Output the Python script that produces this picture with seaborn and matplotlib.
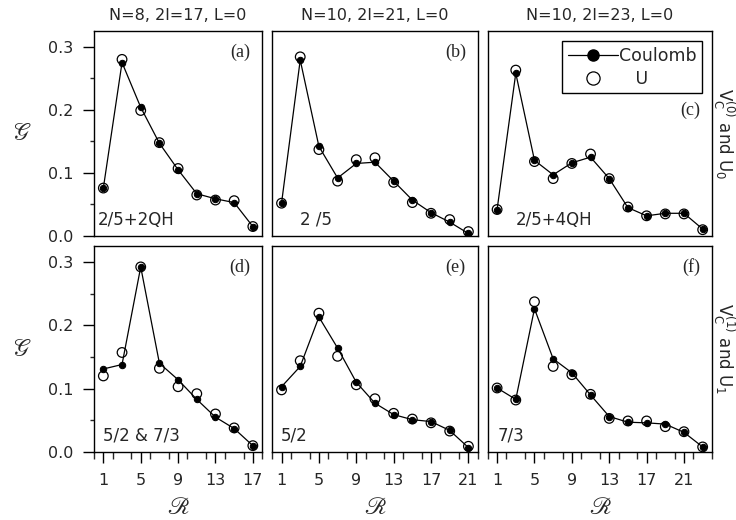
import matplotlib
matplotlib.use("Agg")
import matplotlib.pyplot as plt
import seaborn as sns
from matplotlib.lines import Line2D
from matplotlib.ticker import MultipleLocator

# ---------------- data ----------------
R_a = [1, 3, 5, 7, 9, 11, 13, 15, 17]
R_b = [1, 3, 5, 7, 9, 11, 13, 15, 17, 19, 21]
R_c = [1, 3, 5, 7, 9, 11, 13, 15, 17, 19, 21, 23]

coul_a = [0.076, 0.275, 0.204, 0.147, 0.105, 0.067, 0.059, 0.053, 0.015]
u_a    = [0.076, 0.280, 0.199, 0.148, 0.107, 0.065, 0.057, 0.056, 0.015]
coul_b = [0.052, 0.279, 0.142, 0.092, 0.115, 0.117, 0.087, 0.057, 0.037, 0.022, 0.004]
u_b    = [0.052, 0.284, 0.137, 0.087, 0.121, 0.124, 0.085, 0.053, 0.036, 0.026, 0.007]
coul_c = [0.042, 0.258, 0.120, 0.097, 0.116, 0.125, 0.091, 0.045, 0.032, 0.036, 0.036, 0.011]
u_c    = [0.042, 0.263, 0.118, 0.091, 0.115, 0.130, 0.091, 0.046, 0.032, 0.035, 0.035, 0.010]
coul_d = [0.131, 0.138, 0.292, 0.140, 0.114, 0.083, 0.055, 0.037, 0.010]
u_d    = [0.120, 0.157, 0.292, 0.132, 0.103, 0.092, 0.060, 0.038, 0.010]
coul_e = [0.103, 0.135, 0.213, 0.164, 0.110, 0.077, 0.059, 0.051, 0.048, 0.034, 0.007]
u_e    = [0.098, 0.144, 0.219, 0.151, 0.106, 0.084, 0.061, 0.052, 0.046, 0.033, 0.009]
coul_f = [0.101, 0.083, 0.226, 0.147, 0.125, 0.090, 0.056, 0.047, 0.046, 0.044, 0.031, 0.008]
u_f    = [0.101, 0.082, 0.237, 0.135, 0.122, 0.091, 0.053, 0.049, 0.049, 0.040, 0.032, 0.008]

col_titles = ["N=8, 2l=17, L=0", "N=10, 2l=21, L=0", "N=10, 2l=23, L=0"]
panel_letters = ["(a)", "(b)", "(c)", "(d)", "(e)", "(f)"]
inner_labels = ["2/5+2QH", "2 /5", "2/5+4QH", "5/2 & 7/3", "5/2", "7/3"]
row_labels = [r"V$_{\rm C}^{(0)}$ and U$_0$", r"V$_{\rm C}^{(1)}$ and U$_1$"]
x_major_ticks = [1, 5, 9, 13, 17, 21]
y_major_ticks = [0.0, 0.1, 0.2, 0.3]
legend_labels = ["Coulomb", "   U"]

R_sets = [R_a, R_b, R_c, R_a, R_b, R_c]
coul_sets = [coul_a, coul_b, coul_c, coul_d, coul_e, coul_f]
u_sets = [u_a, u_b, u_c, u_d, u_e, u_f]

# ---------------- style ----------------
sns.set_style("ticks")
plt.rcParams["font.family"] = ["DejaVu Sans"]
plt.rcParams["axes.linewidth"] = 1.0
plt.rcParams["axes.edgecolor"] = "black"

W, H = 736, 520
fig = plt.figure(figsize=(W / 100, H / 100), dpi=100)

# layout in pixels
left_px, right_px, gap_px = 94, 712, 10
spans = [max(r) + 1 for r in (R_a, R_b, R_c)]
avail = right_px - left_px - 2 * gap_px
col_w = [avail * s / sum(spans) for s in spans]
col_l = [left_px, left_px + col_w[0] + gap_px, left_px + col_w[0] + col_w[1] + 2 * gap_px]
rows = [(31, 236), (246, 452)]

inner_offsets = [4, 28, 28, 9, 9, 10]
letter_y_px = [21, 21, 79, 21, 21, 21]

axes = []
for i in range(6):
    r, c = divmod(i, 3)
    top, bot = rows[r]
    ax = fig.add_axes([col_l[c] / W, 1 - bot / H, col_w[c] / W, (bot - top) / H])
    axes.append(ax)
    R = R_sets[i]
    sns.scatterplot(x=R, y=u_sets[i], ax=ax, s=48, facecolor="none",
                    edgecolor="black", linewidth=0.9, zorder=2)
    sns.lineplot(x=R, y=coul_sets[i], ax=ax, color="black", linewidth=0.9,
                 marker="o", markersize=4.6, markerfacecolor="black",
                 markeredgecolor="black", zorder=3)
    ax.set_xlim(0, max(R) + 1)
    ax.set_ylim(0, 0.325)
    ax.set_xticks([t for t in x_major_ticks if t <= max(R)])
    ax.xaxis.set_minor_locator(MultipleLocator(2))
    ax.set_yticks(y_major_ticks)
    ax.yaxis.set_minor_locator(MultipleLocator(0.05))
    ax.tick_params(axis="both", which="major", length=8, width=1.0,
                   labelsize=11.5, pad=7, color="black")
    ax.tick_params(axis="x", which="minor", length=5, width=1.0)
    ax.tick_params(axis="y", which="minor", length=3, width=1.0)
    for s in ax.spines.values():
        s.set_visible(True)
        s.set_color("black")
        s.set_linewidth(1.0)
    if c != 0:
        ax.tick_params(axis="y", which="both", left=False, labelleft=False)
        ax.set_ylabel("")
    else:
        ax.set_ylabel(r"$\mathscr{G}$", math_fontfamily="stix", fontsize=17,
                      rotation=0, labelpad=19, va="center")
    if r == 0:
        ax.tick_params(axis="x", which="both", bottom=False, labelbottom=False)
        ax.set_xlabel("")
        ax.set_title(col_titles[c], fontsize=11.5, pad=8)
    else:
        ax.set_xlabel(r"$\mathscr{R}$", math_fontfamily="stix", fontsize=17,
                      labelpad=5)
    hgt = bot - top
    ax.text(1 - 12 / col_w[c], 1 - letter_y_px[i] / hgt, panel_letters[i],
            transform=ax.transAxes, ha="right", va="center",
            fontsize=13, family="Liberation Serif")
    ax.text(inner_offsets[i] / col_w[c], 16 / hgt, inner_labels[i],
            transform=ax.transAxes, ha="left", va="center", fontsize=12)

# legend in panel (c)
h1 = Line2D([], [], color="black", lw=0.9, marker="o", ms=8,
            mfc="black", mec="black")
h2 = Line2D([], [], ls="none", marker="o", ms=9.5, mfc="none",
            mec="black", mew=0.9)
leg = axes[2].legend(handles=[h1, h2], labels=legend_labels, loc="upper right",
                     fontsize=12.5, frameon=True, fancybox=False, edgecolor="black",
                     framealpha=1, handlelength=2.9, handletextpad=0.05,
                     borderaxespad=0.6, labelspacing=0.3, borderpad=0.3)
leg.get_frame().set_linewidth(1.0)

# right-side row labels
for r, (top, bot) in enumerate(rows):
    fig.text(724 / W, 1 - ((top + bot) / 2) / H, row_labels[r], rotation=270,
             ha="center", va="center", fontsize=12)

fig.savefig("out.png", dpi=100)
